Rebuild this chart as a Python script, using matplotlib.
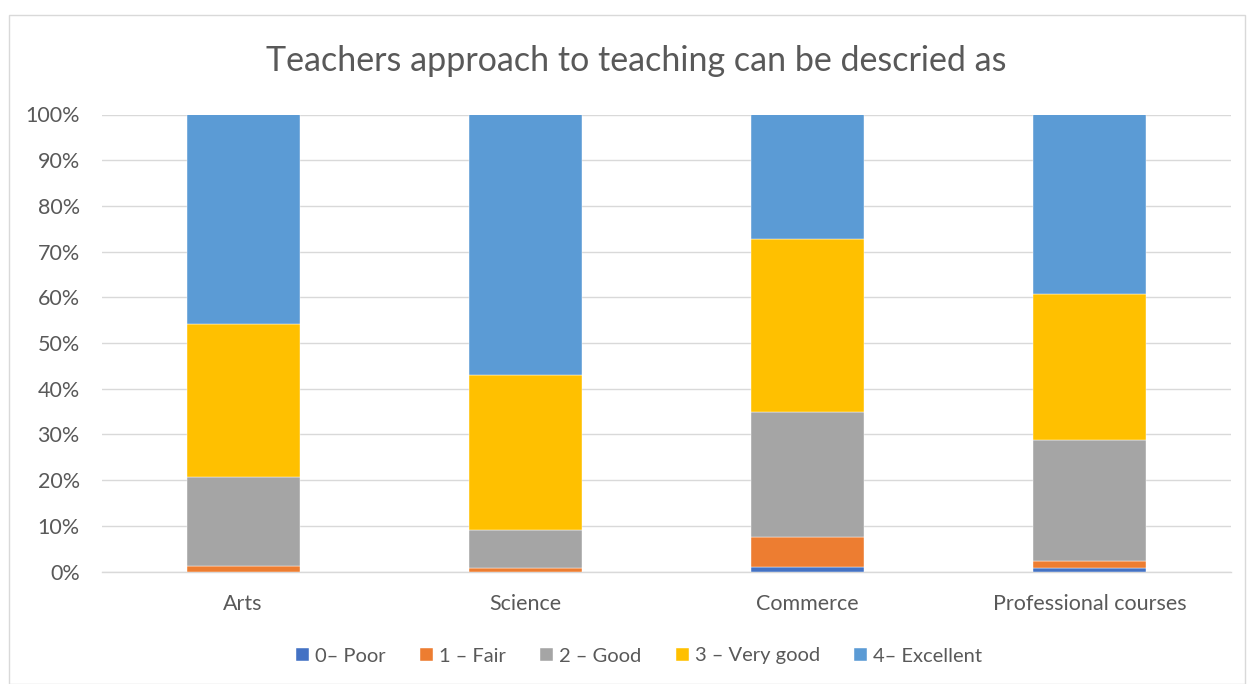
import matplotlib
matplotlib.use("Agg")
import matplotlib.pyplot as plt
from matplotlib.patches import Rectangle
import numpy as np

categories = ["Arts", "Science", "Commerce", "Professional courses"]
series_names = ["0\u2013 Poor", "1 \u2013 Fair", "2 \u2013 Good", "3 \u2013 Very good", "4\u2013 Excellent"]
poor = [0.0, 0.0, 1.0, 0.7]
fair = [1.3, 0.8, 6.5, 1.5]
good = [19.4, 8.3, 27.5, 26.6]
very_good = [33.5, 33.9, 37.8, 32.0]
excellent = [45.8, 57.0, 27.2, 39.2]
colors = ["#4472C4", "#ED7D31", "#A5A5A5", "#FFC000", "#5B9BD5"]

plt.rcParams['font.family'] = ['Lato', 'DejaVu Sans']

fig = plt.figure(figsize=(12.47, 6.84), dpi=100)
W, H = 1247, 684
ax = fig.add_axes([102 / W, 1 - 571.5 / H, (1231 - 102) / W, (571.5 - 114.5) / H])

# chart border
fig.patches.append(Rectangle((9 / W, 0), (1245 - 9) / W, (684 - 15) / H,
                             transform=fig.transFigure, fill=False,
                             edgecolor="#D9D9D9", linewidth=1))

x = np.arange(len(categories))
data = [poor, fair, good, very_good, excellent]
bottom = np.zeros(len(categories))
for vals, name, c in zip(data, series_names, colors):
    v = np.array(vals)
    ax.bar(x, v, 0.4, bottom=bottom, color=c, label=name, zorder=3,
           edgecolor="white", linewidth=0.3)
    bottom += v

ax.set_xlim(-0.5, 3.5)
ax.set_ylim(0, 100)
ax.set_yticks(np.arange(0, 101, 10))
ax.set_yticklabels([f"{t}%" for t in range(0, 101, 10)])
ax.set_xticks(x)
ax.set_xticklabels(categories)
ax.tick_params(axis='both', length=0, labelsize=15.5, colors="#595959")
ax.tick_params(axis='x', pad=16)
ax.tick_params(axis='y', pad=16)
ax.grid(axis='y', color="#D9D9D9", linewidth=1, zorder=0)
for s in ["top", "right", "left"]:
    ax.spines[s].set_visible(False)
ax.spines["bottom"].set_color("#D9D9D9")
ax.spines["bottom"].set_linewidth(1)

fig.text(636 / W, 1 - 61 / H, "Teachers approach to teaching can be descried as",
         ha="center", va="center", fontsize=24.5, color="#595959")

handles, labels = ax.get_legend_handles_labels()
fig.legend(handles, labels, loc="center", bbox_to_anchor=(639 / W, 1 - 656 / H),
           ncol=5, frameon=False, fontsize=14.5, labelcolor="#595959",
           handlelength=0.65, handleheight=0.65, handletextpad=0.3, columnspacing=1.7)

fig.savefig("out.png", dpi=100)
